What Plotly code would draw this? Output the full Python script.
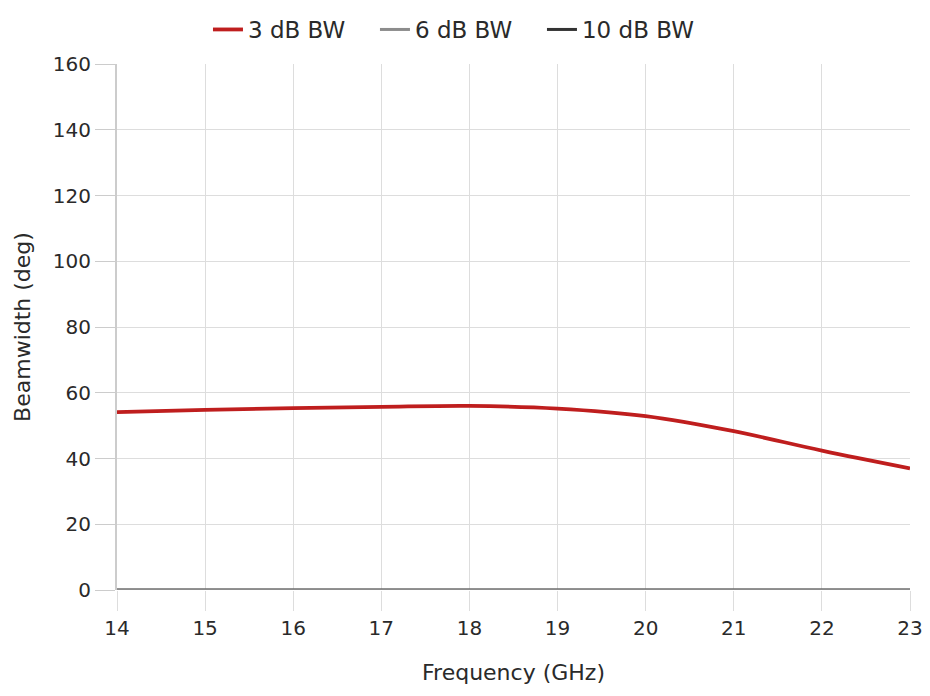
import plotly.graph_objects as go

freq = [14, 15, 16, 17, 18, 19, 20, 21, 22, 23]
bw3 = [54.1, 54.8, 55.3, 55.7, 56.0, 55.2, 52.9, 48.3, 42.4, 37.0]
bw6 = [0, 0, 0, 0, 0, 0, 0, 0, 0, 0]
bw10 = [0, 0, 0, 0, 0, 0, 0, 0, 0, 0]
x_ticks = list(range(14, 24))
y_ticks = list(range(0, 161, 20))

FONT = "DejaVu Sans"
fig = go.Figure()
fig.add_trace(go.Scatter(x=freq, y=bw10, name="10 dB BW", mode="lines",
                         line=dict(color="#333333", width=3), legendrank=3))
fig.add_trace(go.Scatter(x=freq, y=bw6, name="6 dB BW", mode="lines",
                         line=dict(color="#8c8c8c", width=3), legendrank=2))
fig.add_trace(go.Scatter(x=freq, y=bw3, name="3 dB BW", mode="lines",
                         line=dict(color="#bf1e1e", width=3.8, shape="spline", smoothing=1.0),
                         legendrank=1))

fig.update_layout(
    width=922, height=688,
    margin=dict(l=109, r=20, t=56, b=106, autoexpand=False),
    paper_bgcolor="white", plot_bgcolor="white",
    font=dict(family=FONT, size=20, color="#2a2a2a"),
    legend=dict(orientation="h", x=0.4306, xanchor="center", y=1.0, yref="container",
                yanchor="top", font=dict(size=23), itemwidth=30,
                entrywidth=122, entrywidthmode="pixels",
                traceorder="normal"),
    xaxis=dict(range=[14, 23], tickvals=x_ticks, showgrid=True, gridcolor="#dddddd",
               gridwidth=1, ticks="outside", ticklen=20, tickcolor="#dddddd",
               showline=False, zeroline=False, automargin=False,
               title=dict(text="Frequency (GHz)", standoff=25, font=dict(size=22)),
               tickfont=dict(size=20)),
    yaxis=dict(range=[0, 160], tickvals=y_ticks, showgrid=True, gridcolor="#dddddd",
               gridwidth=1, ticks="outside", ticklen=20, tickcolor="#cccccc",
               showline=True, linecolor="#cccccc", linewidth=2, zeroline=False,
               automargin=False,
               title=dict(text="Beamwidth (deg)", standoff=16, font=dict(size=22)),
               tickfont=dict(size=20)),
)
fig.write_html("out.html")
